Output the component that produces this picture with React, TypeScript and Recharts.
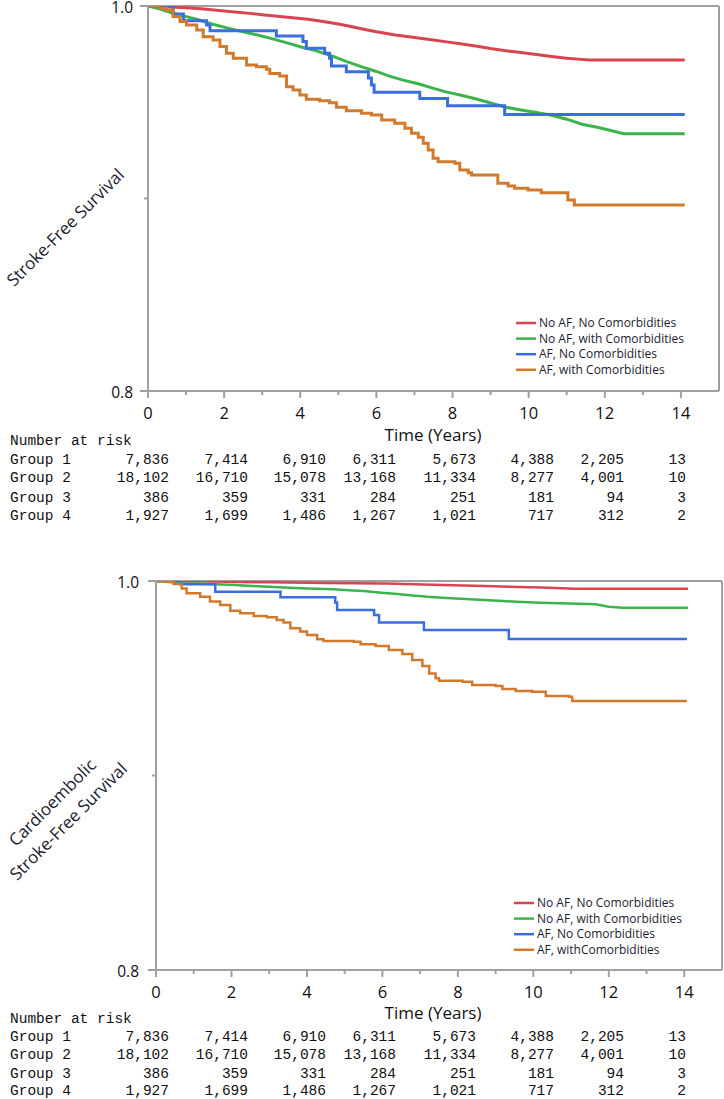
import React from "react"
import { LineChart, Line, XAxis, YAxis, ReferenceLine, Legend } from "recharts"

// legend names and colours
const groupNames = ["No AF, No Comorbidities", "No AF, with Comorbidities", "AF, No Comorbidities", "AF, with Comorbidities"]
const groupNamesCe = ["No AF, No Comorbidities", "No AF, with Comorbidities", "AF, No Comorbidities", "AF, withComorbidities"]
const groupColors = ["#d94450", "#3cb44b", "#3a6ee0", "#d27a2c"]
// the big groups have so many events that their curves look smooth
const groupCurve = ["linear", "linear", "stepAfter", "stepAfter"]

const xTicks = [0, 1, 2, 3, 4, 5, 6, 7, 8, 9, 10, 11, 12, 13, 14]
const yTicks = [0.8, 0.9, 1.0]

// --- stroke-free survival (top) ---
const anyRedT = [0, 0.6, 1.0, 1.4, 1.8, 2.2, 2.6, 3.0, 3.4, 3.8, 4.2, 4.6, 5.0, 5.3, 5.6, 6.0, 6.5, 7.0, 7.4, 7.8, 8.2, 8.6, 9.0, 9.4, 9.8, 10.2, 10.6, 11.0, 11.3, 11.6, 14.1]
const anyRedS = [1, 0.9995, 0.9991, 0.9986, 0.9978, 0.997, 0.9963, 0.9955, 0.9947, 0.9939, 0.9931, 0.992, 0.9906, 0.9895, 0.9882, 0.9866, 0.9849, 0.9836, 0.9826, 0.9815, 0.9804, 0.9792, 0.9779, 0.9768, 0.9758, 0.9748, 0.9738, 0.9729, 0.9724, 0.972, 0.972]

const anyGreenT = [0, 0.3, 0.6, 0.9, 1.3, 1.7, 2.1, 2.5, 2.9, 3.3, 3.7, 4.0, 4.4, 4.8, 5.2, 5.6, 6.0, 6.3, 6.7, 7.1, 7.5, 7.8, 8.2, 8.6, 9.0, 9.4, 9.8, 10.2, 10.6, 11.0, 11.4, 11.8, 12.1, 12.5, 14.1]
const anyGreenS = [1, 0.9985, 0.9966, 0.995, 0.993, 0.9905, 0.9885, 0.9866, 0.9848, 0.9828, 0.9806, 0.9788, 0.9768, 0.9743, 0.9712, 0.9685, 0.966, 0.9638, 0.9615, 0.9596, 0.9572, 0.9555, 0.9538, 0.9518, 0.9496, 0.9474, 0.946, 0.9447, 0.9432, 0.9412, 0.9386, 0.937, 0.9356, 0.9337, 0.9337]

const anyBlueT = [0, 0.66, 0.93, 1.54, 1.63, 3.37, 4.07, 4.16, 4.64, 4.77, 4.82, 5.21, 5.79, 5.87, 5.94, 7.14, 7.87, 9.37, 14.1]
const anyBlueS = [1, 0.9958, 0.9924, 0.9901, 0.9872, 0.9844, 0.9815, 0.978, 0.9754, 0.9728, 0.9688, 0.9659, 0.9626, 0.959, 0.9552, 0.952, 0.9482, 0.9437, 0.9437]

const anyOrangeT = [0, 0.31, 0.49, 0.66, 0.84, 1.01, 1.28, 1.45, 1.71, 1.89, 2.06, 2.24, 2.59, 2.85, 3.11, 3.2, 3.46, 3.64, 3.81, 3.99, 4.16, 4.51, 4.77, 4.95, 5.21, 5.61, 5.87, 6.14, 6.48, 6.75, 6.92, 7.1, 7.23, 7.36, 7.49, 7.62, 8.06, 8.19, 8.41, 8.5, 9.19, 9.46, 9.63, 9.98, 10.33, 11.03, 11.2, 14.1]
const anyOrangeS = [1, 0.9988, 0.9979, 0.9945, 0.9919, 0.9901, 0.9875, 0.984, 0.9823, 0.9789, 0.9754, 0.9728, 0.9694, 0.9685, 0.9671, 0.965, 0.9636, 0.9581, 0.9564, 0.9538, 0.9515, 0.9508, 0.9498, 0.9474, 0.9456, 0.9443, 0.9434, 0.9408, 0.9391, 0.9365, 0.9339, 0.9318, 0.9287, 0.9252, 0.9209, 0.9191, 0.9183, 0.9148, 0.9134, 0.9122, 0.9079, 0.9065, 0.9053, 0.9044, 0.903, 0.8992, 0.8966, 0.8966]

// --- cardioembolic stroke-free survival (bottom) ---
const ceRedT = [0, 1.5, 3.0, 4.5, 6.1, 7.6, 8.7, 10.2, 11.1, 14.1]
const ceRedS = [1, 0.9997, 0.9993, 0.999, 0.9987, 0.998, 0.9974, 0.9967, 0.996, 0.996]

const ceGreenT = [0, 0.4, 0.8, 1.4, 2.1, 2.7, 3.4, 4.0, 4.7, 5.1, 5.5, 5.9, 6.4, 6.8, 7.2, 7.7, 8.2, 8.7, 9.2, 9.7, 10.2, 10.7, 11.2, 11.65, 12.0, 12.36, 14.1]
const ceGreenS = [1, 0.9995, 0.9988, 0.9984, 0.9979, 0.9973, 0.9967, 0.9962, 0.9957, 0.9953, 0.9949, 0.9941, 0.9933, 0.9926, 0.9919, 0.9913, 0.9907, 0.9902, 0.9897, 0.9892, 0.9888, 0.9885, 0.9883, 0.988, 0.9868, 0.9863, 0.9863]

const ceBlueT = [0, 0.65, 1.57, 3.3, 4.75, 4.8, 5.78, 5.91, 7.1, 9.35, 14.07]
const ceBlueS = [1, 0.9983, 0.9945, 0.9916, 0.9889, 0.9851, 0.9825, 0.9787, 0.9748, 0.9702, 0.9702]

const ceOrangeT = [0, 0.3, 0.47, 0.68, 0.81, 1.17, 1.43, 1.7, 1.97, 2.23, 2.59, 2.94, 3.2, 3.38, 3.56, 3.82, 4.0, 4.27, 4.44, 5.24, 5.42, 5.82, 6.17, 6.53, 6.79, 7.06, 7.24, 7.41, 7.5, 8.12, 8.38, 9.0, 9.18, 9.53, 9.97, 10.33, 10.95, 11.03, 14.07]
const ceOrangeS = [1, 0.9995, 0.9985, 0.9962, 0.9937, 0.9919, 0.9894, 0.9877, 0.9847, 0.9834, 0.982, 0.9813, 0.98, 0.9786, 0.9757, 0.974, 0.9722, 0.97, 0.9692, 0.9688, 0.9675, 0.9666, 0.9645, 0.9625, 0.9594, 0.9563, 0.9525, 0.95, 0.9487, 0.9482, 0.9465, 0.946, 0.9445, 0.9434, 0.9431, 0.9409, 0.9405, 0.9383, 0.9383]

// number at risk (same table under both plots)
const riskTimes = [0, 2, 4, 6, 8, 10, 12, 14]
const riskGroup1 = [7836, 7414, 6910, 6311, 5673, 4388, 2205, 13]
const riskGroup2 = [18102, 16710, 15078, 13168, 11334, 8277, 4001, 10]
const riskGroup3 = [386, 359, 331, 284, 251, 181, 94, 3]
const riskGroup4 = [1927, 1699, 1486, 1267, 1021, 717, 312, 2]

const zip = (t: number[], s: number[]) => t.map((v, i) => ({ t: v, s: s[i] }))

const axisGray = "#a0a0a0"
const sans = "'Open Sans', 'Noto Sans', sans-serif"
const mono = "'Liberation Mono', 'DejaVu Sans Mono', monospace"

const XTick = (props: any) => {
  const { x, y, payload } = props
  const major = payload.value % 2 === 0
  return (
    <g>
      <line x1={x} x2={x} y1={y} y2={y + (major ? 7 : 4)} stroke={axisGray} strokeWidth={2} />
      {major && (
        <text x={x} y={y + 28} textAnchor="middle" fontSize={16.5} fontFamily={sans} fill="#111">
          {payload.value}
        </text>
      )}
    </g>
  )
}

const makeYTick = (gap: number) => (props: any) => {
  const { x, y, payload } = props
  const major = Math.abs(payload.value - 0.9) > 0.001
  return (
    <g>
      <line x1={x - (major ? 8 : 4)} x2={x} y1={y} y2={y} stroke={axisGray} strokeWidth={2} />
      {major && (
        <text x={x - gap} y={y + 6.5} textAnchor="end" fontSize={15.5} fontFamily={sans} fill="#111">
          {payload.value.toFixed(1)}
        </text>
      )}
    </g>
  )
}

const makeLegend = (names: string[]) => () => (
  <svg width={200} height={64} style={{ display: "block", overflow: "visible" }}>
    {names.map((n, i) => (
      <g key={n}>
        <line x1={0} x2={20} y1={8 + i * 15.6} y2={8 + i * 15.6} stroke={groupColors[i]} strokeWidth={2.5} />
        <text x={23} y={12 + i * 15.6} fontSize={12} fontFamily={sans} fill="#1c1c30">
          {n}
        </text>
      </g>
    ))}
  </svg>
)

function RiskTable({ rowYs }: { rowYs: number[] }) {
  const cols = [169, 248, 326, 396, 476, 554, 624, 686]
  const rows = [riskGroup1, riskGroup2, riskGroup3, riskGroup4]
  return (
    <>
      <text x={10} y={rowYs[0]} fontSize={14.5} fontFamily={mono} fill="#111">
        Number at risk
      </text>
      {rows.map((r, i) => (
        <g key={i}>
          <text x={10} y={rowYs[i + 1]} fontSize={14.5} fontFamily={mono} fill="#111">
            {"Group " + (i + 1)}
          </text>
          {riskTimes.map((t, j) => (
            <text key={t} x={cols[j]} y={rowYs[i + 1]} textAnchor="end" fontSize={14.5} fontFamily={mono} fill="#111">
              {r[j].toLocaleString("en-US")}
            </text>
          ))}
        </g>
      ))}
    </>
  )
}

function SurvivalPlot(props: {
  series: { t: number; s: number }[][]
  names: string[]
  width: number
  height: number
  margin: any
  yWidth: number
  yGap: number
  lineWidth: number
  legendPos: { left: number; top: number }
}) {
  const { series, names, width, height, margin, yWidth, yGap, lineWidth, legendPos } = props
  return (
    <LineChart width={width} height={height} margin={margin}>
      <XAxis
        type="number"
        dataKey="t"
        domain={[0, 15]}
        ticks={xTicks}
        interval={0}
        height={60}
        tickSize={0}
        tickMargin={0}
        tickLine={false}
        axisLine={{ stroke: axisGray, strokeWidth: 2 }}
        tick={<XTick />}
        allowDataOverflow
      />
      <YAxis
        type="number"
        domain={[0.8, 1]}
        ticks={yTicks}
        interval={0}
        width={yWidth}
        tickSize={0}
        tickMargin={0}
        tickLine={false}
        axisLine={{ stroke: axisGray, strokeWidth: 2 }}
        tick={makeYTick(yGap)}
        allowDataOverflow
      />
      <ReferenceLine y={1} stroke={axisGray} strokeWidth={2} />
      <ReferenceLine x={15} stroke={axisGray} strokeWidth={2} />
      {series.map((d, i) => (
        <Line
          key={names[i]}
          data={d}
          dataKey="s"
          name={names[i]}
          type={groupCurve[i] as any}
          stroke={groupColors[i]}
          strokeWidth={lineWidth}
          dot={false}
          activeDot={false}
          isAnimationActive={false}
        />
      ))}
      <Legend
        layout="horizontal"
        verticalAlign="middle"
        align="center"
        content={makeLegend(names)}
        wrapperStyle={{ position: "absolute", left: legendPos.left, top: legendPos.top, width: 200, height: 64 }}
      />
    </LineChart>
  )
}

export default function App() {
  const topSeries = [zip(anyRedT, anyRedS), zip(anyGreenT, anyGreenS), zip(anyBlueT, anyBlueS), zip(anyOrangeT, anyOrangeS)]
  const ceSeries = [zip(ceRedT, ceRedS), zip(ceGreenT, ceGreenS), zip(ceBlueT, ceBlueS), zip(ceOrangeT, ceOrangeS)]
  return (
    <div style={{ position: "absolute", left: 0, top: 0, width: 724, height: 1099, background: "#fff", overflow: "hidden" }}>
      <div style={{ position: "absolute", left: 0, top: 0 }}>
        <SurvivalPlot
          series={topSeries}
          names={groupNames}
          width={724}
          height={451}
          margin={{ top: 6, right: 5, left: 0, bottom: 0 }}
          yWidth={148}
          yGap={15}
          lineWidth={3}
          legendPos={{ left: 516, top: 315 }}
        />
      </div>
      <div style={{ position: "absolute", left: 0, top: 560 }}>
        <SurvivalPlot
          series={ceSeries}
          names={groupNamesCe}
          width={724}
          height={470}
          margin={{ top: 21, right: 2, left: 0, bottom: 0 }}
          yWidth={156}
          yGap={17}
          lineWidth={2.5}
          legendPos={{ left: 514, top: 335 }}
        />
      </div>
      <svg width={724} height={1099} style={{ position: "absolute", left: 0, top: 0, pointerEvents: "none" }}>
        <text x={65} y={227} textAnchor="middle" dominantBaseline="central" transform="rotate(-45 65 227)" fontSize={17} fontFamily={sans} fill="#1c1c30">
          Stroke-Free Survival
        </text>
        <text x={52} y={802} textAnchor="middle" dominantBaseline="central" transform="rotate(-45 52 802)" fontSize={17} fontFamily={sans} fill="#1c1c30">
          Cardioembolic
        </text>
        <text x={68} y={821} textAnchor="middle" dominantBaseline="central" transform="rotate(-45 68 821)" fontSize={17} fontFamily={sans} fill="#1c1c30">
          Stroke-Free Survival
        </text>
        <text x={433} y={441} textAnchor="middle" fontSize={17} fontFamily={sans} fill="#111">
          Time (Years)
        </text>
        <text x={433} y={1019} textAnchor="middle" fontSize={17} fontFamily={sans} fill="#111">
          Time (Years)
        </text>
        <RiskTable rowYs={[445, 464, 482, 502, 520]} />
        <RiskTable rowYs={[1023, 1041, 1059, 1078, 1095]} />
      </svg>
    </div>
  )
}
